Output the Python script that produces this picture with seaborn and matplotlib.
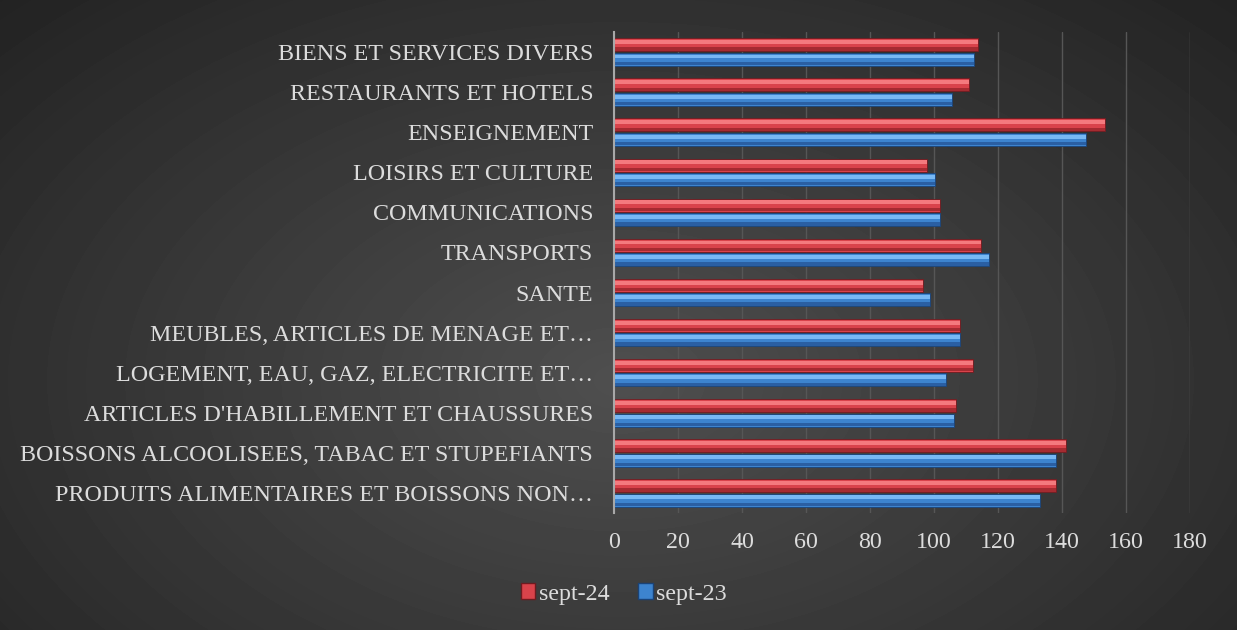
import numpy as np
import pandas as pd
import seaborn as sns
import matplotlib.pyplot as plt
from matplotlib.patches import Rectangle, Patch

categories = [
    "BIENS ET SERVICES DIVERS",
    "RESTAURANTS ET HOTELS",
    "ENSEIGNEMENT",
    "LOISIRS ET CULTURE",
    "COMMUNICATIONS",
    "TRANSPORTS",
    "SANTE",
    "MEUBLES, ARTICLES DE MENAGE ET…",
    "LOGEMENT, EAU, GAZ, ELECTRICITE ET…",
    "ARTICLES D'HABILLEMENT ET CHAUSSURES",
    "BOISSONS ALCOOLISEES, TABAC ET STUPEFIANTS",
    "PRODUITS ALIMENTAIRES ET BOISSONS NON…",
]
sept24 = [113.6, 111.0, 153.5, 97.9, 102.0, 114.8, 96.7, 108.1, 112.2, 106.9, 141.2, 138.1]
sept23 = [112.6, 105.7, 147.5, 100.4, 102.0, 117.3, 98.8, 108.1, 103.8, 106.3, 138.1, 133.1]
series = ["sept-24", "sept-23"]
xticks = [0, 20, 40, 60, 80, 100, 120, 140, 160, 180]

sns.set_theme(style="dark")
plt.rcParams["font.family"] = ["Liberation Serif", "DejaVu Serif"]

W, H = 1237, 630
fig = plt.figure(figsize=(W / 100, H / 100), dpi=100)
fig.patch.set_facecolor("#2b2b2b")

# radial gradient background
bg = fig.add_axes([0, 0, 1, 1], zorder=0)
yy, xx = np.mgrid[0:H, 0:W]
r = np.sqrt(((xx - 620) / 800.0) ** 2 + ((yy - 380) / 500.0) ** 2)
lum = 0.31 - 0.16 * np.clip(r, 0, 1.2)
bg.imshow(lum, cmap="gray", vmin=0, vmax=1, aspect="auto", interpolation="bilinear")
bg.axis("off")

ax = fig.add_axes([614 / W, 1 - 513 / H, (1190 - 614) / W, (513 - 32) / H], zorder=1)
ax.set_facecolor("none")

n = len(categories)
df = pd.DataFrame({
    "category": categories * 2,
    "value": sept24 + sept23,
    "serie": [series[0]] * n + [series[1]] * n,
})
colors = {"sept-24": "#d9434b", "sept-23": "#3d84cf"}
edges = {"sept-24": "#6e1b20", "sept-23": "#1a4378"}
lights = {"sept-24": "#f47a7e", "sept-23": "#78b8f4"}
darks = {"sept-24": "#a52b31", "sept-23": "#2a5fa3"}

sns.barplot(data=df, y="category", x="value", hue="serie", hue_order=series,
            palette=colors, width=0.72, gap=0.1, orient="h", legend=False,
            ax=ax, saturation=1, linewidth=0.6, zorder=3)

for i, p in enumerate(list(ax.patches)):
    s = series[0] if i < n else series[1]
    x0, y0, w, h = p.get_x(), p.get_y(), p.get_width(), p.get_height()
    p.set_edgecolor(edges[s])
    ax.add_patch(Rectangle((x0, y0 + 0.14 * h), w, 0.3 * h, facecolor=lights[s],
                           edgecolor="none", zorder=4))
    ax.add_patch(Rectangle((x0, y0 + 0.7 * h), w, 0.26 * h, facecolor=darks[s],
                           edgecolor="none", zorder=4))

ax.set_xlim(0, 180)
ax.set_xticks(xticks)
ax.set_xlabel("")
ax.set_ylabel("")
ax.xaxis.grid(True, color="#565656", linewidth=1.0, zorder=0)
ax.yaxis.grid(False)
for sp in ["top", "right", "bottom"]:
    ax.spines[sp].set_visible(False)
ax.spines["left"].set_color("#a8a8a8")
ax.spines["left"].set_linewidth(1.5)
ax.spines["left"].set_zorder(5)
ax.tick_params(axis="y", length=0, pad=15, labelsize=17.3, labelcolor="#dcdcdc")
ax.tick_params(axis="x", length=0, pad=14, labelsize=17.3, labelcolor="#dcdcdc")

handles = [Patch(facecolor=colors[s], edgecolor=edges[s]) for s in series]
fig.legend(handles, series, loc="center", bbox_to_anchor=(624 / W, 1 - 594 / H),
           ncol=2, frameon=False, handlelength=0.6, handleheight=0.6,
           handletextpad=0.15, columnspacing=1.2, fontsize=17.3, labelcolor="#dcdcdc")

fig.savefig("out.png", dpi=100, facecolor=fig.get_facecolor())
